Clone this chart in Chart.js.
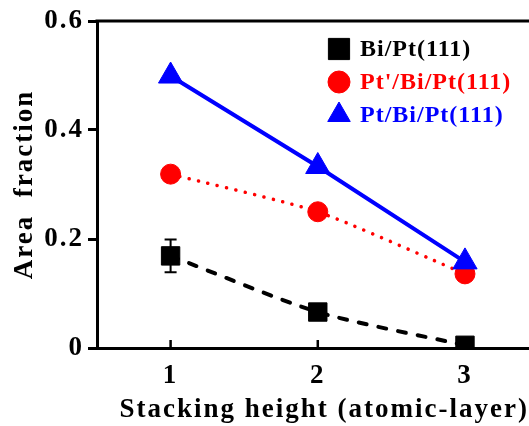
<!DOCTYPE html>
<html>
<head>
<meta charset="utf-8">
<script src="https://cdn.jsdelivr.net/npm/chart.js@4/dist/chart.umd.min.js"></script>
<style>
html,body{margin:0;padding:0;background:#fff;overflow:hidden;}
#wrap{width:529px;height:426px;position:relative;}
</style>
</head>
<body>
<div id="wrap"><canvas id="c" width="529" height="426"></canvas></div>
<script>
// ---- data ----
const stackHeights = [1, 2, 3];
const seriesLabels = ['Bi/Pt(111)', "Pt'/Bi/Pt(111)", 'Pt/Bi/Pt(111)'];
const biPt = [0.169, 0.066, 0.005];
const biPtErr = [0.03, 0, 0];
const ptPrimeBiPt = [0.319, 0.25, 0.136];
const ptBiPt = [0.499, 0.333, 0.158];
const xTicks = [1, 2, 3];
const yTicks = [0, 0.2, 0.4, 0.6];
const xTitle = 'Stacking height (atomic-layer)';
const yTitle = 'Area  fraction';

const FONT = '"Liberation Serif", "Times New Roman", serif';
const pts = arr => stackHeights.map((x, i) => ({x: x, y: arr[i]}));

const spacing = {
  id: 'spacing',
  beforeInit(chart) { chart.ctx.letterSpacing = '2px'; },
  beforeLayout(chart) { chart.ctx.letterSpacing = '2px'; }
};

const errorBars = {
  id: 'errorBars',
  afterDatasetsDraw(chart) {
    const ctx = chart.ctx, xs = chart.scales.x, ys = chart.scales.y;
    ctx.save();
    ctx.strokeStyle = '#000';
    ctx.lineWidth = 2;
    stackHeights.forEach((x, i) => {
      const e = biPtErr[i];
      if (!e) return;
      const px = xs.getPixelForValue(x);
      const t = ys.getPixelForValue(biPt[i] + e), b = ys.getPixelForValue(biPt[i] - e);
      ctx.beginPath();
      ctx.moveTo(px, t); ctx.lineTo(px, b);
      ctx.moveTo(px - 6, t); ctx.lineTo(px + 6, t);
      ctx.moveTo(px - 6, b); ctx.lineTo(px + 6, b);
      ctx.stroke();
    });
    ctx.restore();
  }
};

const frame = {
  id: 'frame',
  afterDraw(chart) {
    const ctx = chart.ctx, a = chart.chartArea, xs = chart.scales.x;
    ctx.save();
    ctx.strokeStyle = '#000';
    ctx.lineWidth = 3;
    ctx.beginPath();
    ctx.moveTo(a.left - 1.5, a.top);
    ctx.lineTo(a.right, a.top);
    ctx.stroke();
    // inward x ticks
    ctx.lineWidth = 2.5;
    xTicks.forEach(v => {
      const px = xs.getPixelForValue(v);
      ctx.beginPath();
      ctx.moveTo(px, a.bottom);
      ctx.lineTo(px, a.bottom - 8);
      ctx.stroke();
    });
    // legend
    const rows = [49, 82, 115];
    const lx = 339, tx = 360;
    ctx.letterSpacing = '1px';
    chart.data.datasets.forEach((ds, i) => {
      const y = rows[i];
      ctx.fillStyle = ds.pointBackgroundColor;
      ctx.strokeStyle = ds.pointBackgroundColor;
      ctx.lineWidth = 1;
      Chart.helpers.drawPoint(ctx, {pointStyle: ds.pointStyle, radius: ds.legendRadius, borderWidth: 1}, lx, y);
      ctx.fillStyle = ds.textColor;
      ctx.font = 'bold 24px ' + FONT;
      ctx.textBaseline = 'middle';
      ctx.textAlign = 'left';
      ctx.fillText(ds.label, tx, y + 1);
    });
    ctx.restore();
  }
};

new Chart(document.getElementById('c'), {
  type: 'line',
  data: {
    datasets: [
      {
        label: seriesLabels[0], data: pts(biPt),
        borderColor: '#000', borderWidth: 4, borderDash: [8, 12], borderCapStyle: 'round',
        tension: 0.25, pointStyle: 'rect', pointRadius: 13, pointHoverRadius: 13,
        pointBackgroundColor: '#000', pointBorderColor: '#000', pointBorderWidth: 1,
        legendRadius: 15, textColor: '#000', clip: 0, order: 3
      },
      {
        label: seriesLabels[1], data: pts(ptPrimeBiPt),
        borderColor: '#ff0000', borderWidth: 3.5, borderDash: [0.1, 9.5], borderCapStyle: 'round',
        tension: 0.2, pointStyle: 'circle', pointRadius: 10, pointHoverRadius: 10,
        pointBackgroundColor: '#ff0000', pointBorderColor: '#ff0000', pointBorderWidth: 1,
        legendRadius: 11, textColor: '#ff0000', clip: 0, order: 2
      },
      {
        label: seriesLabels[2], data: pts(ptBiPt),
        borderColor: '#0000ff', borderWidth: 4, tension: 0,
        pointStyle: 'triangle', pointRadius: 14, pointHoverRadius: 14,
        pointBackgroundColor: '#0000ff', pointBorderColor: '#0000ff', pointBorderWidth: 1,
        legendRadius: 13, textColor: '#0000ff', clip: 0, order: 1
      }
    ]
  },
  options: {
    responsive: false,
    animation: false,
    events: [],
    layout: {autoPadding: false, padding: {top: 21, right: 0, left: 0, bottom: 0}},
    plugins: {legend: {display: false}, tooltip: {enabled: false}},
    scales: {
      x: {
        type: 'linear', min: 0.5, max: 3.435,
        afterBuildTicks: s => { s.ticks = xTicks.map(v => ({value: v})); },
        afterFit: s => { s.height = 78; s.paddingLeft = 0; s.paddingRight = 0; },
        ticks: {color: '#000', font: {family: FONT, size: 27, weight: 'bold'}, padding: 12,
                callback: v => String(v), maxRotation: 0},
        grid: {display: true, drawOnChartArea: false, drawTicks: false},
        border: {color: '#000', width: 3},
        title: {display: true, text: xTitle, color: '#000', align: 'end',
                font: {family: FONT, size: 27, weight: 'bold'}, padding: {top: 0, bottom: 0}}
      },
      y: {
        min: 0, max: 0.6,
        afterBuildTicks: s => { s.ticks = yTicks.map(v => ({value: v})); },
        afterFit: s => { s.width = 97; s.paddingTop = 0; s.paddingBottom = 0; },
        ticks: {color: '#000', font: {family: FONT, size: 27, weight: 'bold'}, padding: 4,
                callback: v => (v === 0 ? '0' : v.toFixed(1))},
        grid: {display: true, drawOnChartArea: false, drawTicks: true, tickLength: 9,
               color: '#000', lineWidth: 3},
        border: {color: '#000', width: 3},
        title: {display: true, text: yTitle, color: '#000',
                font: {family: FONT, size: 27, weight: 'bold'}, padding: {top: 9, bottom: 6}}
      }
    }
  },
  plugins: [spacing, errorBars, frame]
});
</script>
</body>
</html>
